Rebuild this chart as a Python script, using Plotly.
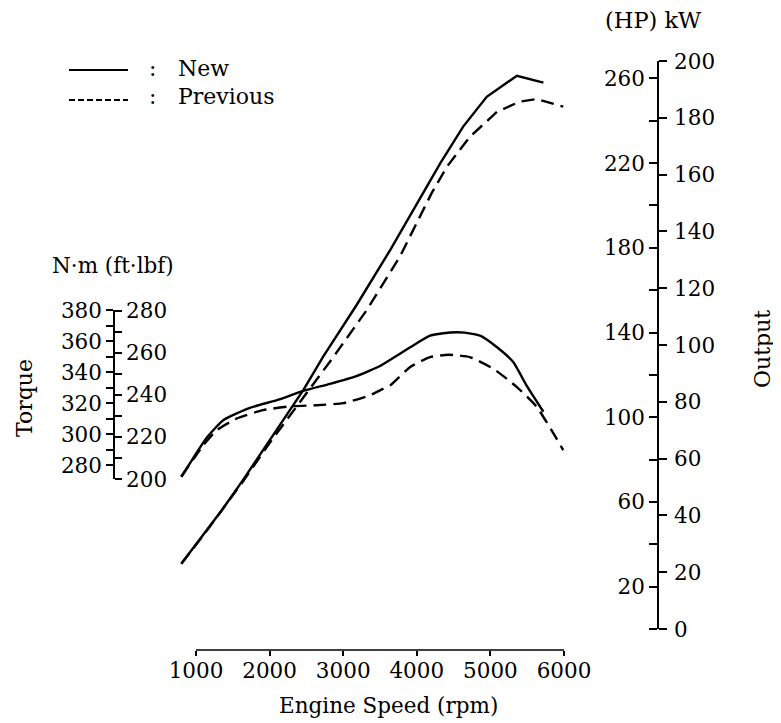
import plotly.graph_objects as go

# ---------------- data ----------------
FT_PER_NM = 0.73756
HP_PER_KW = 1 / 0.7457

rpm_torque_new = [800, 960, 1150, 1370, 1730, 2100, 2460, 2820, 3180, 3360, 3500, 3640,
                  3910, 4180, 4450, 4650, 4860, 5090, 5310, 5490, 5720]
torque_new_nm = [272.6, 284.5, 298.0, 309.0, 317.0, 322.0, 328.0, 332.5, 337.5, 341.0, 344.0, 348.0,
                 356.0, 363.5, 365.5, 365.5, 363.5, 356.0, 346.5, 331.5, 314.5]

rpm_torque_prev = [800, 1100, 1280, 1550, 1910, 2280, 2640, 3000, 3360, 3500, 3640, 3910,
                   4180, 4430, 4720, 5040, 5360, 5630, 5830, 5990]
torque_prev_nm = [272.6, 293.0, 302.5, 310.0, 315.5, 318.0, 318.7, 320.0, 325.0, 328.3, 331.5, 343.3,
                  349.7, 351.2, 349.7, 342.2, 330.4, 317.6, 302.6, 289.8]

rpm_power_new = [800, 1100, 1370, 1640, 2000, 2460, 2730, 3180, 3640, 4090, 4320, 4630, 4950, 5360, 5720]
power_new_kw = [23.0, 33.1, 42.5, 52.5, 66.5, 84.2, 96.0, 114.0, 133.5, 153.4, 164.0, 176.9, 187.4, 194.8, 192.4]

rpm_power_prev = [800, 1100, 1370, 1640, 2000, 2460, 2870, 3320, 3770, 4200, 4410, 4720, 5090, 5400, 5630, 5990]
power_prev_kw = [23.0, 33.0, 42.5, 52.0, 65.5, 81.5, 95.9, 112.3, 131.1, 153.4, 162.8, 173.3, 182.1, 185.7, 186.6, 183.9]

rpm_ticks = [1000, 2000, 3000, 4000, 5000, 6000]
legend_labels = ["New", "Previous"]

# ---------------- layout geometry (window pixels) ----------------
W, H = 781, 723
OFF = 8                       # page body margin
FW, FH = W - OFF, H - OFF     # figure size
def px(x):
    return (x - OFF) / FW
def py(y):
    return 1 - (y - OFF) / FH

X_AXIS_Y = 650
X_LEFT_PX, X_RIGHT_PX = 196, 564          # 1000 rpm .. 6000 rpm
PPR = (X_RIGHT_PX - X_LEFT_PX) / (rpm_ticks[-1] - rpm_ticks[0])
x_full_range = [rpm_ticks[0] - (X_LEFT_PX - OFF) / PPR, rpm_ticks[0] + (W - X_LEFT_PX) / PPR]

TQ_AXIS_X = 114
TQ_TOP, TQ_BOT = 310, 479
FT_RANGE = [200, 280.3]
NM_RANGE = [FT_RANGE[0] / FT_PER_NM, FT_RANGE[1] / FT_PER_NM]

PW_AXIS_X = 658
PW_TOP, PW_BOT = 61, 629
KW_RANGE = [0, 200]
HP_RANGE = [KW_RANGE[0] * HP_PER_KW, KW_RANGE[1] * HP_PER_KW]

FONT = "DejaVu Serif"
TICKFONT = dict(family=FONT, size=21.5, color="black")
LW = 1.5

fig = go.Figure()

solid = dict(color="black", width=2.4)
dashed = dict(color="black", width=2.4, dash="13px,7px")

fig.add_trace(go.Scatter(x=rpm_torque_new, y=torque_new_nm, xaxis="x", yaxis="y", mode="lines",
                         line=dict(**solid, shape="spline", smoothing=0.5), name="New torque"))
fig.add_trace(go.Scatter(x=rpm_torque_prev, y=torque_prev_nm, xaxis="x", yaxis="y", mode="lines",
                         line=dict(**dashed, shape="spline", smoothing=0.5), name="Previous torque"))
fig.add_trace(go.Scatter(x=rpm_power_new, y=power_new_kw, xaxis="x", yaxis="y3", mode="lines",
                         line=solid, name="New output"))
fig.add_trace(go.Scatter(x=rpm_power_prev, y=power_prev_kw, xaxis="x", yaxis="y3", mode="lines",
                         line=dashed, name="Previous output"))
# invisible carrier traces so the secondary unit axes are drawn
fig.add_trace(go.Scatter(x=[rpm_ticks[0]], y=[FT_RANGE[0]], xaxis="x", yaxis="y2", mode="markers",
                         marker=dict(size=1, opacity=0), hoverinfo="skip"))
fig.add_trace(go.Scatter(x=[rpm_ticks[0]], y=[HP_RANGE[0]], xaxis="x", yaxis="y4", mode="markers",
                         marker=dict(size=1, opacity=0), hoverinfo="skip"))

common = dict(showgrid=False, zeroline=False, showline=True, linecolor="black", linewidth=LW,
              tickcolor="black", tickwidth=LW, tickfont=TICKFONT, ticks="outside",
              automargin=False, fixedrange=True)

def minor(dtick, tick0, ticklen):
    return dict(dtick=dtick, tick0=tick0, ticklen=ticklen, ticks="outside", tickcolor="black",
                tickwidth=LW, showgrid=False)

fig.update_layout(
    width=FW, height=FH, margin=dict(l=0, r=0, t=0, b=0, autoexpand=False),
    paper_bgcolor="white", plot_bgcolor="rgba(0,0,0,0)", showlegend=False,
    font=dict(family=FONT, size=21, color="black"),
    xaxis=dict(domain=[0, 1], range=x_full_range, anchor="free", position=py(X_AXIS_Y),
               showgrid=False, zeroline=False, showline=False, ticks="outside", ticklen=5,
               tickcolor="black", tickwidth=LW, tickfont=TICKFONT, tickmode="array",
               tickvals=rpm_ticks, ticklabelstandoff=-4, automargin=False, fixedrange=True),
    yaxis=dict(domain=[py(TQ_BOT), py(TQ_TOP)], range=NM_RANGE,
               anchor="free", position=px(TQ_AXIS_X), side="left",
               tickmode="linear", tick0=280, dtick=20, ticklen=7,
               minor=minor(10, 270, 7), **common),
    yaxis2=dict(overlaying="y", range=FT_RANGE, anchor="free", position=px(TQ_AXIS_X), side="right",
                tickmode="linear", tick0=200, dtick=20, ticklen=7,
                minor=minor(10, 200, 7), **common),
    yaxis3=dict(domain=[py(PW_BOT), py(PW_TOP)], range=KW_RANGE, anchor="free",
                position=px(PW_AXIS_X), side="right", tickmode="linear", tick0=0, dtick=20,
                ticklen=8, ticklabelstandoff=3, **common),
    yaxis4=dict(overlaying="y3", range=HP_RANGE, anchor="free", position=px(PW_AXIS_X), side="left",
                tickmode="linear", tick0=20, dtick=40, ticklen=8,
                minor=minor(20, 0, 8), **common),
)

# rpm axis line spanning 1000..6000 rpm
fig.add_shape(type="line", xref="x", yref="paper", x0=rpm_ticks[0], x1=rpm_ticks[-1],
              y0=py(X_AXIS_Y), y1=py(X_AXIS_Y), line=dict(color="black", width=LW))

def ann(text, x, y, size=22, angle=0, xanchor="center"):
    fig.add_annotation(text=text, x=px(x), y=py(y), xref="paper", yref="paper", showarrow=False,
                       textangle=angle, xanchor=xanchor, yanchor="middle",
                       font=dict(family=FONT, size=size, color="black"))

ann("Engine Speed (rpm)", 388, 705, size=21.5)
ann("Torque", 25, 398, angle=-90)
ann("Output", 762, 349, angle=-90)
ann("N·m (ft·lbf)", 113, 265, size=21.5)
ann("(HP) kW", 653, 20, size=22.5)

# legend
fig.add_shape(type="line", xref="paper", yref="paper", x0=px(69), x1=px(128), y0=py(70), y1=py(70),
              line=dict(color="black", width=1.8))
fig.add_shape(type="line", xref="paper", yref="paper", x0=px(69), x1=px(128), y0=py(100), y1=py(100),
              line=dict(color="black", width=1.8, dash="6px,3px"))
ann(":", 152, 68)
ann(":", 152, 97)
ann(legend_labels[0], 176, 68, xanchor="left")
ann(legend_labels[1], 176, 97, xanchor="left")

fig.write_html("out.html")
